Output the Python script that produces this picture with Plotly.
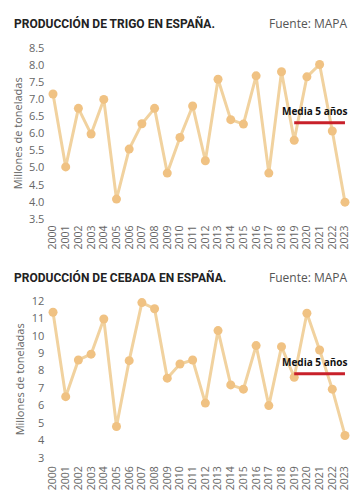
import plotly.graph_objects as go

years = list(range(2000, 2024))
trigo = [7.15, 5.02, 6.73, 5.98, 6.99, 4.08, 5.54, 6.28, 6.73, 4.84, 5.88, 6.8,
         5.2, 7.58, 6.4, 6.27, 7.68, 4.84, 7.8, 5.8, 7.65, 8.01, 6.07, 3.99]
cebada = [11.34, 6.51, 8.61, 8.94, 10.95, 4.8, 8.57, 11.89, 11.54, 7.57, 8.38, 8.61,
          6.14, 10.29, 7.18, 6.94, 9.43, 6.0, 9.37, 7.62, 11.28, 9.18, 6.94, 4.29]
media_years = [2019, 2023]
media_trigo = [6.31, 6.31]
media_cebada = [7.82, 7.82]

titles = ["PRODUCCIÓN DE TRIGO EN ESPAÑA.", "PRODUCCIÓN DE CEBADA EN ESPAÑA."]
source = "Fuente: MAPA"
ytitle = "Millones de toneladas"
media_label = "Media 5 años"
top_ticks = [3.5, 4.0, 4.5, 5.0, 5.5, 6.0, 6.5, 7.0, 7.5, 8.0, 8.5]
bot_ticks = list(range(3, 13))

W, H = 363, 500
OFF = 8  # page body margin offset
line_col = "#f1d29f"
mark_col = "#f0c283"
red = "#c8202a"
font = "Open Sans"

def px_x(p):
    return (p - OFF) / W

def px_y(p):
    return 1 - (p - OFF) / H

fig = go.Figure()
for i, (vals, med) in enumerate([(trigo, media_trigo), (cebada, media_cebada)]):
    xa = "x" if i == 0 else "x2"
    ya = "y" if i == 0 else "y2"
    fig.add_trace(go.Scatter(x=years, y=vals, mode="lines+markers", xaxis=xa, yaxis=ya,
                             line=dict(color=line_col, width=3),
                             marker=dict(color=mark_col, size=9), showlegend=False,
                             cliponaxis=False))
    fig.add_trace(go.Scatter(x=media_years, y=med, mode="lines", xaxis=xa, yaxis=ya,
                             line=dict(color=red, width=3), showlegend=False))
    fig.add_annotation(x=media_years[1] + 0.3, y=med[0], xref=xa, yref=ya,
                       text="<b>" + media_label + "</b>", showarrow=False,
                       xanchor="right", yanchor="bottom", yshift=3,
                       font=dict(family=font, size=10, color="#111"))

xdom = [px_x(45.4), px_x(352.6)]
xaxis_common = dict(range=[1999.4, 2023.6], tickmode="array", tickvals=years,
                    ticktext=[str(y) for y in years], tickangle=-90, showgrid=False,
                    zeroline=False, showline=False, ticks="", automargin=False,
                    tickfont=dict(family=font, size=10.5, color="#666"), domain=xdom)
fig.update_layout(
    width=W, height=H, margin=dict(l=0, r=0, t=0, b=0),
    plot_bgcolor="white", paper_bgcolor="white",
    xaxis=dict(**xaxis_common, anchor="y"),
    xaxis2=dict(**xaxis_common, anchor="y2"),
    yaxis=dict(range=[3.4, 8.6], domain=[px_y(222.4), px_y(44.3)], tickvals=top_ticks,
               ticktext=[f"{t:.1f}" for t in top_ticks], showgrid=False, zeroline=False,
               automargin=False,
               tickfont=dict(family=font, size=11, color="#666"), anchor="x",
               title=dict(text=ytitle, font=dict(family=font, size=11, color="#666"), standoff=4)),
    yaxis2=dict(range=[2.7, 12.3], domain=[px_y(463.25), px_y(295.45)], tickvals=bot_ticks,
                showgrid=False, zeroline=False, automargin=False,
                tickfont=dict(family=font, size=11, color="#666"), anchor="x2",
                title=dict(text=ytitle, font=dict(family=font, size=11, color="#666"), standoff=4)),
)
for t, ypx in zip(titles, [23, 277]):
    fig.add_annotation(x=px_x(12), y=px_y(ypx), xref="paper", yref="paper", text="<b>" + t + "</b>",
                       showarrow=False, xanchor="left", yanchor="middle",
                       font=dict(family="Roboto", size=12, color="#222"))
    fig.add_annotation(x=px_x(350), y=px_y(ypx), xref="paper", yref="paper", text=source,
                       showarrow=False, xanchor="right", yanchor="middle",
                       font=dict(family=font, size=12, color="#555"))

fig.write_html("out.html")
